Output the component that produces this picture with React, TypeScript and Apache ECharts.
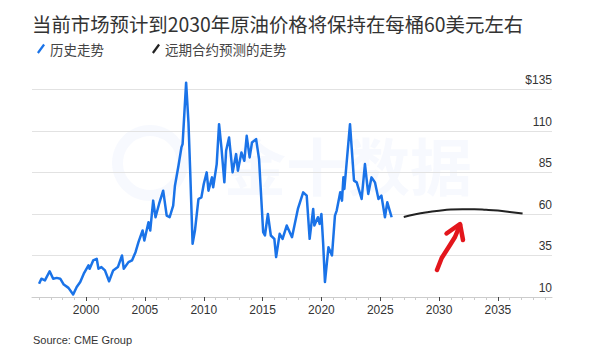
import React, { useEffect, useRef } from "react";
import * as echarts from "echarts";

const histYears = [
  1996.0, 1996.2, 1996.5, 1996.9, 1997.2, 1997.5, 1997.8, 1998.1, 1998.5, 1998.9,
  1999.2, 1999.5, 1999.8, 2000.2, 2000.3, 2000.6, 2000.9, 2001.05, 2001.3, 2001.6,
  2001.95, 2002.3, 2002.7, 2003.05, 2003.2, 2003.6, 2003.9, 2004.2, 2004.45, 2004.8,
  2004.95, 2005.3, 2005.45, 2005.7, 2005.9, 2006.2, 2006.55, 2006.85, 2007.1, 2007.4,
  2007.55, 2007.85, 2008.1, 2008.2, 2008.5, 2008.7, 2008.85, 2009.05, 2009.25, 2009.55,
  2009.8, 2010.0, 2010.25, 2010.4, 2010.7, 2010.8, 2011.1, 2011.3, 2011.5, 2011.75,
  2011.9, 2012.15, 2012.45, 2012.75, 2012.9, 2013.2, 2013.45, 2013.65, 2013.9, 2014.1,
  2014.45, 2014.7, 2015.05, 2015.2, 2015.45, 2015.7, 2016.0, 2016.15, 2016.45, 2016.7,
  2017.05, 2017.5, 2018.0, 2018.45, 2018.75, 2019.0, 2019.3, 2019.4, 2019.7, 2019.85,
  2020.0, 2020.15, 2020.3, 2020.6, 2020.9, 2021.15, 2021.3, 2021.6, 2021.75, 2021.87,
  2021.95, 2022.43, 2022.77, 2023.0, 2023.42, 2023.7, 2023.98, 2024.26, 2024.55, 2024.85,
  2025.1, 2025.4, 2025.6, 2025.97,
];
const histPrices = [
  18, 21, 20, 25.5, 21, 21.5, 21, 17.5, 15.5, 11.5,
  16, 19, 24, 29, 27, 32, 33, 27, 28, 26,
  19.5, 26, 28, 35, 27, 31, 32, 37, 43, 50,
  44, 55, 50, 68, 58, 66, 74, 59, 58, 65,
  77, 89, 100, 102, 139, 115, 85, 42, 50, 69,
  70, 78, 85, 74, 82, 76, 90, 114, 100, 79,
  98, 106, 85, 96, 86, 97, 92, 107, 94, 103,
  105, 93, 49, 47, 60, 47, 45, 34, 48, 45,
  53, 46, 63, 73, 71, 45, 63, 53, 58, 54,
  60, 42, 19, 40, 35, 59, 62, 73, 68, 82,
  75, 114, 80, 79, 69, 90, 72, 82, 79, 69,
  71, 58, 67, 58,
];

const futYears = [2027, 2028, 2029, 2030, 2031, 2032, 2033, 2034, 2035, 2036, 2037.1];
const futPrices = [58.2, 59.8, 61.0, 61.9, 62.6, 62.8, 62.8, 62.5, 62.0, 61.2, 60.2];

const xTickYears = [2000, 2005, 2010, 2015, 2020, 2025, 2030, 2035];
const yTicks = [10, 35, 60, 85, 110, 135];

const seriesNames = ["历史走势", "远期合约预测的走势"];
const titleText = "当前市场预计到2030年原油价格将保持在每桶60美元左右";
const sourceText = "Source: CME Group";

export default function App() {
  const ref = useRef<HTMLDivElement>(null);

  useEffect(() => {
    document.body.style.margin = "0";
    if (!ref.current) return;
    const chart = echarts.init(ref.current, undefined, { renderer: "svg" });

    const xMin = 1995.4;
    const xMax = 2039.6;
    const minorYears: number[] = [];
    for (let y = 1996; y <= 2039; y++) {
      if (y % 5 !== 0) minorYears.push(y);
    }

    const numFont = "'Liberation Sans', Arial, sans-serif";
    const cjkFont = "'Noto Sans CJK SC', sans-serif";

    chart.setOption({
      animation: false,
      backgroundColor: "#ffffff",
      title: {
        text: titleText,
        left: 27,
        top: 9,
        textStyle: {
          fontSize: 19.4,
          fontWeight: "normal",
          color: "#333333",
          fontFamily: cjkFont,
        },
      },
      legend: {
        left: 32,
        top: 37,
        itemWidth: 8,
        itemHeight: 11,
        itemGap: 48,
        data: [
          { name: seriesNames[0], icon: "path://M7,0 L9,1.6 L2,11 L0,9.4 Z" },
          { name: seriesNames[1], icon: "path://M7,0 L9,1.6 L2,11 L0,9.4 Z" },
        ],
        textStyle: { fontSize: 13.5, color: "#444444", fontFamily: cjkFont },
      },
      grid: {
        left: 32,
        right: 48,
        top: 89.3,
        bottom: 63,
        containLabel: false,
        outerBoundsMode: "none",
      },
      xAxis: [
        {
          type: "value",
          min: xMin,
          max: xMax,
          axisLine: { show: true, lineStyle: { color: "#cccccc", width: 1 } },
          axisTick: {
            show: true,
            customValues: xTickYears,
            length: 4,
            lineStyle: { color: "#444444", width: 1 },
          },
          axisLabel: {
            customValues: xTickYears,
            color: "#333333",
            fontSize: 12,
            fontFamily: numFont,
            margin: 7,
            formatter: (v: number) => String(v),
          },
          splitLine: { show: false },
        },
        {
          type: "value",
          min: xMin,
          max: xMax,
          position: "bottom",
          axisLine: { show: false },
          axisTick: {
            show: true,
            customValues: minorYears,
            length: 3,
            lineStyle: { color: "#cccccc", width: 1 },
          },
          axisLabel: { show: false },
          splitLine: { show: false },
        },
      ],
      yAxis: {
        type: "value",
        position: "right",
        min: yTicks[0],
        max: yTicks[yTicks.length - 1],
        interval: 25,
        axisLine: { show: false },
        axisTick: { show: false },
        splitLine: { show: true, lineStyle: { color: "#e2e2e2", width: 1 } },
        axisLabel: {
          inside: true,
          margin: 0,
          align: "right",
          verticalAlign: "bottom",
          padding: [0, 0, 3, 0],
          color: "#333333",
          fontSize: 12,
          fontFamily: numFont,
          formatter: (v: number) => (v === yTicks[yTicks.length - 1] ? "$" + v : String(v)),
        },
      },
      series: [
        {
          name: seriesNames[0],
          type: "line",
          xAxisIndex: 0,
          data: histYears.map((y, i) => [y, histPrices[i]]),
          symbol: "none",
          clip: false,
          z: 3,
          color: "#1a73e8",
          lineStyle: { color: "#1a73e8", width: 2.5, join: "round" },
        },
        {
          name: seriesNames[1],
          type: "line",
          xAxisIndex: 0,
          data: futYears.map((y, i) => [y, futPrices[i]]),
          symbol: "none",
          smooth: true,
          clip: false,
          z: 3,
          color: "#222222",
          lineStyle: { color: "#222222", width: 2 },
        },
      ],
      graphic: [
        {
          type: "ring",
          z: 0,
          silent: true,
          shape: { cx: 150, cy: 163, r: 38, r0: 27 },
          style: { fill: "rgba(40,100,220,0.04)" },
        },
        {
          type: "text",
          z: 0,
          silent: true,
          x: 224,
          y: 133,
          style: {
            text: "金十数据",
            font: "bold 62px 'Noto Sans CJK SC', sans-serif",
            fill: "rgba(40,100,220,0.04)",
          },
        },
        {
          type: "polyline",
          z: 10,
          shape: {
            points: [
              [437, 270],
              [441.7, 258],
              [450, 245],
              [455, 237],
              [460, 225],
            ],
          },
          style: { stroke: "#e3161c", lineWidth: 4.5, lineCap: "round", lineJoin: "round", fill: "none" },
        },
        {
          type: "polyline",
          z: 10,
          shape: {
            points: [
              [446.5, 233.5],
              [460, 224],
              [463, 240],
            ],
          },
          style: { stroke: "#e3161c", lineWidth: 4.5, lineCap: "round", lineJoin: "round", fill: "none" },
        },
        {
          type: "text",
          x: 33,
          y: 334,
          style: {
            text: sourceText,
            font: "11px 'Liberation Sans', Arial, sans-serif",
            fill: "#333333",
          },
        },
      ],
    });

    return () => {
      chart.dispose();
    };
  }, []);

  return <div ref={ref} style={{ width: 600, height: 360 }} />;
}
